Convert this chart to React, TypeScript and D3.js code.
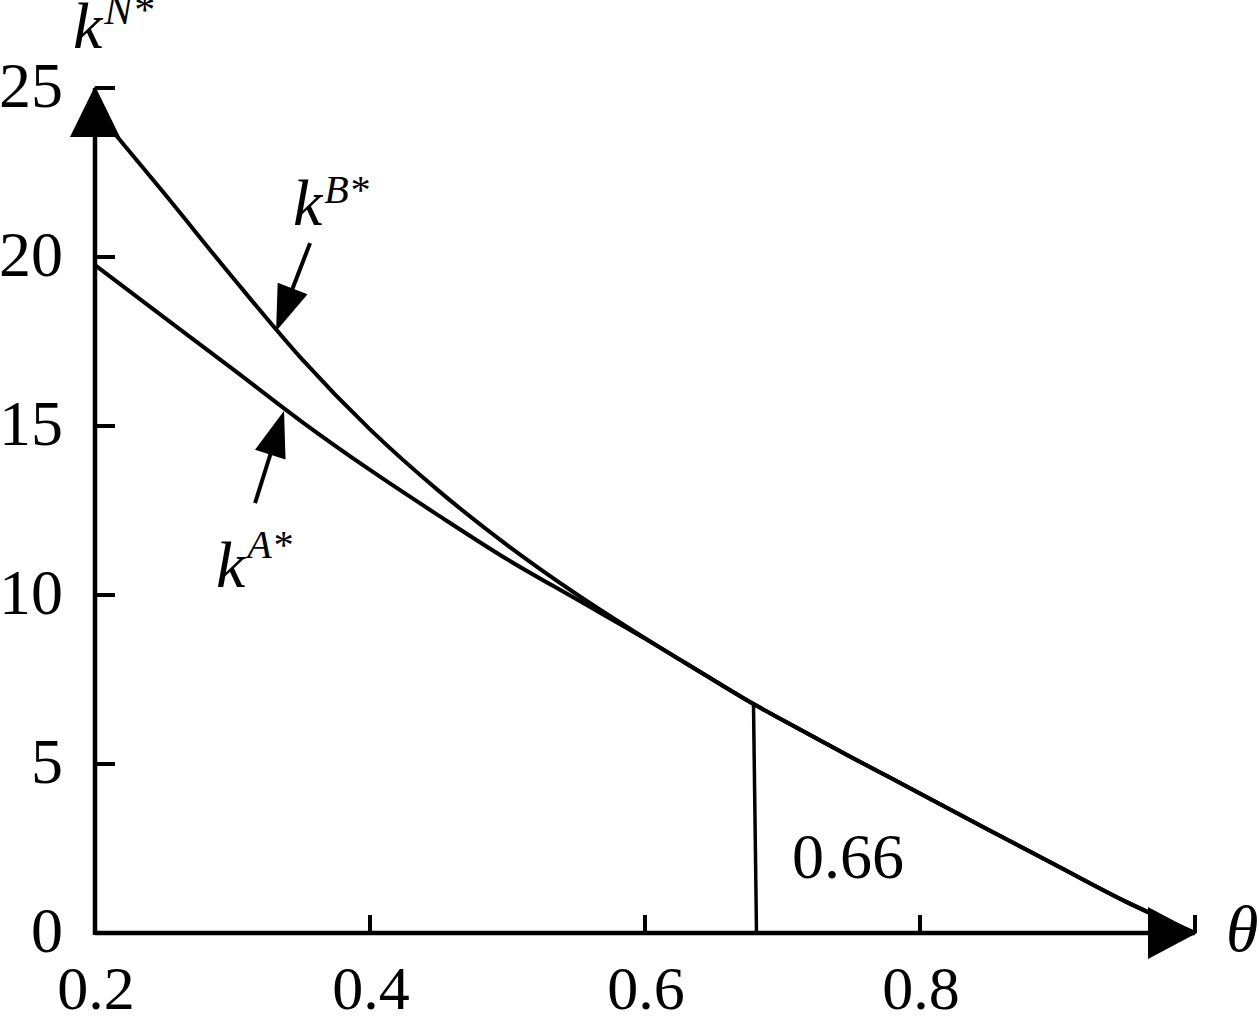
import * as React from 'react';
import * as d3 from 'd3';

// theta grid and curve values
const thetaB = [0.2, 0.25, 0.3, 0.35, 0.4, 0.45, 0.5, 0.55, 0.6, 0.65, 0.68, 0.7, 0.75, 0.8, 0.85, 0.9, 0.95, 1.0];
const kB = [24.35, 21.9, 19.4, 17.0, 14.9, 13.08, 11.47, 10.03, 8.72, 7.48, 6.75, 6.3, 5.2, 4.13, 3.05, 1.98, 0.92, 0.0];
const thetaA = [0.2, 0.25, 0.3, 0.35, 0.4, 0.45, 0.5, 0.55, 0.6, 0.65, 0.68, 0.7, 0.75, 0.8, 0.85, 0.9, 0.95, 1.0];
const kA = [19.76, 18.22, 16.69, 15.14, 13.7, 12.35, 11.05, 9.88, 8.71, 7.48, 6.75, 6.3, 5.2, 4.13, 3.05, 1.98, 0.92, 0.0];

const yTicks = [0, 5, 10, 15, 20, 25];
const xTicks = [0.2, 0.4, 0.6, 0.8];
const xTickLabels = ['0.2', '0.4', '0.6', '0.8'];
const xMinorTicks = [0.4, 0.6, 0.8, 1.0];

const markerTheta = 0.68;
const markerValue = 6.75;
const markerLabel = '0.66';

// label arrows: [tailTheta, tailK, tipTheta, tipK]
const arrowB = [0.3564, 20.41, 0.3317, 17.8];
const arrowA = [0.3164, 12.72, 0.3375, 15.45];

const FONT = '"Liberation Serif", "DejaVu Serif", serif';

const update = (svgNode: SVGSVGElement) => {
	const svg = d3.select(svgNode);
	svg.html('');

	const x = d3.scaleLinear().domain([0.2, 1.0]).range([95, 1195]);
	const y = d3.scaleLinear().domain([0, 25]).range([933, 88]);

	const g = svg.append('g');

	// curves
	const line = d3.line<[number, number]>()
		.x(d => x(d[0]))
		.y(d => y(d[1]))
		.curve(d3.curveMonotoneX);

	const seriesB: [number, number][] = thetaB.map((t, i) => [t, kB[i]]);
	const seriesA: [number, number][] = thetaA.map((t, i) => [t, kA[i]]);

	[seriesA, seriesB].forEach(s => {
		g.append('path')
			.attr('d', line(s))
			.attr('fill', 'none')
			.attr('stroke', '#000')
			.attr('stroke-width', 4)
			.attr('stroke-linejoin', 'round');
	});

	// marker line
	g.append('line')
		.attr('x1', x(markerTheta) - 1.5).attr('x2', x(markerTheta) + 1.5)
		.attr('y1', y(markerValue)).attr('y2', y(0))
		.attr('stroke', '#000')
		.attr('stroke-width', 3.5);

	g.append('text')
		.attr('x', x(markerTheta) + 37)
		.attr('y', y(0) - 55)
		.attr('font-family', FONT)
		.attr('font-size', 64)
		.text(markerLabel);

	// axes
	g.append('line')
		.attr('x1', x(0.2)).attr('x2', x(1.0))
		.attr('y1', y(0)).attr('y2', y(0))
		.attr('stroke', '#000').attr('stroke-width', 4.5);
	g.append('line')
		.attr('x1', x(0.2)).attr('x2', x(0.2))
		.attr('y1', y(0) + 2).attr('y2', y(25))
		.attr('stroke', '#000').attr('stroke-width', 4.5);

	// y ticks
	g.selectAll('.ytick')
		.data(yTicks)
		.enter().append('line')
		.attr('class', 'ytick')
		.attr('x1', x(0.2)).attr('x2', x(0.2) + 20)
		.attr('y1', d => y(d)).attr('y2', d => y(d))
		.attr('stroke', '#000').attr('stroke-width', 4);

	g.selectAll('.ylabel')
		.data(yTicks)
		.enter().append('text')
		.attr('class', 'ylabel')
		.attr('x', x(0.2) - 32)
		.attr('y', d => y(d) + 19)
		.attr('text-anchor', 'end')
		.attr('font-family', FONT)
		.attr('font-size', 64)
		.text(d => String(d));

	// x ticks
	g.selectAll('.xtick')
		.data(xMinorTicks)
		.enter().append('line')
		.attr('class', 'xtick')
		.attr('x1', d => x(d)).attr('x2', d => x(d))
		.attr('y1', y(0)).attr('y2', y(0) - 18)
		.attr('stroke', '#000').attr('stroke-width', 4);

	g.selectAll('.xlabel')
		.data(xTicks)
		.enter().append('text')
		.attr('class', 'xlabel')
		.attr('x', d => x(d) + 1)
		.attr('y', 1009)
		.attr('text-anchor', 'middle')
		.attr('font-family', FONT)
		.attr('font-size', 62)
		.text((d, i) => xTickLabels[i]);

	// axis arrowheads
	const y0 = y(0), x0 = x(0.2);
	g.append('path')
		.attr('d', `M${x0},${y(25) - 2}L${x0 - 25},${y(25) + 49}L${x0 + 25},${y(25) + 49}Z`)
		.attr('fill', '#000');
	g.append('path')
		.attr('d', `M${x(1.0) + 2},${y0}L${x(1.0) - 47},${y0 - 26}L${x(1.0) - 47},${y0 + 26}Z`)
		.attr('fill', '#000');

	// axis titles
	const kN = g.append('text')
		.attr('x', 73).attr('y', 48)
		.attr('font-family', FONT)
		.attr('font-style', 'italic')
		.attr('font-size', 66);
	kN.append('tspan').text('k');
	kN.append('tspan').attr('dx', 2).attr('dy', -24).attr('font-size', 42).text('N*');

	g.append('text')
		.attr('x', 1226).attr('y', 951)
		.attr('font-family', FONT)
		.attr('font-style', 'italic')
		.attr('font-size', 66)
		.text('θ');

	// curve labels
	const kBl = g.append('text')
		.attr('x', 293).attr('y', 225)
		.attr('font-family', FONT)
		.attr('font-style', 'italic')
		.attr('font-size', 66);
	kBl.append('tspan').text('k');
	kBl.append('tspan').attr('dx', 2).attr('dy', -22).attr('font-size', 40).text('B*');

	const kAl = g.append('text')
		.attr('x', 216).attr('y', 587)
		.attr('font-family', FONT)
		.attr('font-style', 'italic')
		.attr('font-size', 66);
	kAl.append('tspan').text('k');
	kAl.append('tspan').attr('dx', 2).attr('dy', -29).attr('font-size', 40).text('A*');

	// label arrows
	[arrowB, arrowA].forEach(a => {
		const tx = x(a[0]), ty = y(a[1]), hx = x(a[2]), hy = y(a[3]);
		const dx = hx - tx, dy = hy - ty;
		const len = Math.sqrt(dx * dx + dy * dy);
		const ux = dx / len, uy = dy / len;
		const head = 46, half = 16;
		const bx = hx - ux * head, by = hy - uy * head;
		g.append('line')
			.attr('x1', tx).attr('y1', ty)
			.attr('x2', bx + ux * 2).attr('y2', by + uy * 2)
			.attr('stroke', '#000').attr('stroke-width', 4);
		g.append('path')
			.attr('d', `M${hx},${hy}L${bx - uy * half},${by + ux * half}L${bx + uy * half},${by - ux * half}Z`)
			.attr('fill', '#000');
	});
};

const App = () => {
	const ref = React.useRef<SVGSVGElement>(null);
	React.useEffect(() => {
		if (ref.current) update(ref.current);
	}, []);
	return (
		<svg
			ref={ref}
			width={1259}
			height={1017}
			style={{position: 'absolute', left: 0, top: 0, background: '#fff'}}
		/>
	);
};

export default App;
